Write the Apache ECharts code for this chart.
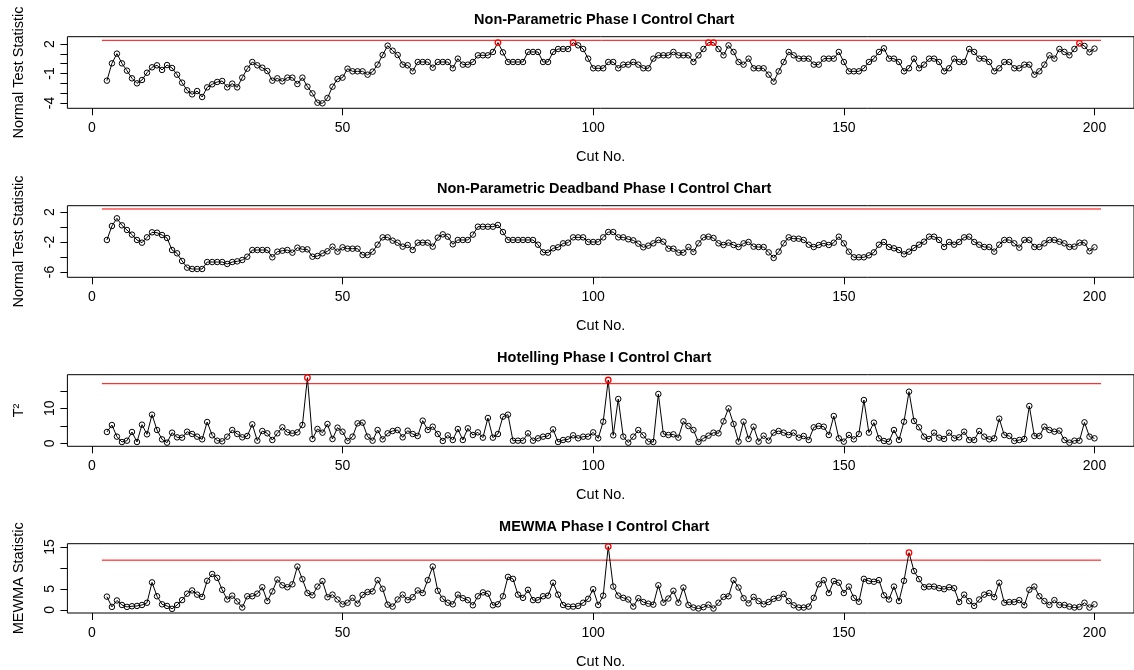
<!DOCTYPE html>
<html><head><meta charset="utf-8">
<script src="https://cdn.jsdelivr.net/npm/echarts@6/dist/echarts.min.js"></script>
<style>html,body{margin:0;padding:0;background:#fff}#c{width:1134px;height:670px}</style>
</head><body><div id="c"></div>
<script>
const firstCut = 3;
const titles = ["Non-Parametric Phase I Control Chart","Non-Parametric Deadband Phase I Control Chart","Hotelling Phase I Control Chart","MEWMA Phase I Control Chart"];
const yNames = ["Normal Test Statistic","Normal Test Statistic","T\u00B2","MEWMA Statistic"];
const xName = "Cut No.";
const xTicks = [0,50,100,150,200];

const np1 = [-1.73,0.03,1.02,0.03,-0.71,-1.49,-2.00,-1.66,-0.92,-0.37,
-0.17,-0.64,-0.14,-0.44,-1.12,-1.93,-2.71,-3.12,-2.78,-3.39,
-2.41,-2.10,-1.86,-1.76,-2.41,-2.03,-2.41,-1.42,-0.51,0.17,
-0.17,-0.41,-0.75,-1.73,-1.49,-1.80,-1.42,-1.42,-2.07,-1.42,
-2.34,-3.02,-3.97,-4.03,-3.49,-2.34,-1.56,-1.42,-0.51,-0.78,
-0.78,-0.78,-1.12,-0.81,-0.10,0.88,1.83,1.32,0.88,-0.10,
-0.17,-0.78,0.17,0.17,0.17,-0.41,0.17,0.17,0.17,-0.47,
0.51,-0.10,-0.10,0.17,0.85,0.85,0.85,1.19,2.14,1.15,
0.17,0.17,0.17,0.17,1.19,1.19,1.19,0.17,0.17,1.19,
1.49,1.49,1.49,2.14,1.86,1.49,0.51,-0.47,-0.47,-0.47,
0.17,0.17,-0.47,-0.10,-0.10,0.17,-0.10,-0.47,-0.47,0.51,
0.85,0.85,0.85,1.19,0.85,0.85,0.85,0.17,0.85,1.49,
2.14,2.14,1.49,0.85,1.86,1.19,0.17,-0.10,0.51,-0.47,
-0.47,-0.47,-1.12,-1.83,-0.78,0.17,1.19,0.85,0.51,0.51,
0.51,-0.10,-0.10,0.51,0.51,0.51,1.19,0.17,-0.78,-0.78,
-0.78,-0.47,0.17,0.51,1.19,1.56,0.51,0.51,0.17,-0.78,
-0.47,0.51,-0.47,-0.10,0.51,0.51,0.17,-0.78,-0.47,0.51,
0.17,0.17,1.49,1.19,0.51,0.51,0.17,-0.78,-0.47,0.17,
0.17,-0.47,-0.47,-0.10,-0.10,-1.12,-0.78,-0.10,0.85,0.51,
1.49,1.19,0.85,1.49,2.07,1.80,1.15,1.53];

const np2 = [-1.73,0.13,1.16,0.22,-0.40,-1.02,-1.73,-2.09,-1.38,-0.71,
-0.76,-1.07,-1.47,-3.07,-3.51,-4.53,-5.42,-5.60,-5.60,-5.60,
-4.67,-4.67,-4.67,-4.67,-4.93,-4.67,-4.58,-4.40,-3.96,-3.07,
-3.07,-3.07,-3.07,-4.04,-3.29,-3.16,-3.07,-3.42,-2.76,-2.98,
-2.98,-3.96,-3.87,-3.51,-3.24,-2.62,-3.29,-2.71,-2.89,-2.89,
-2.89,-3.73,-3.73,-3.29,-2.36,-1.38,-1.38,-1.82,-2.09,-2.62,
-2.40,-3.07,-2.09,-2.09,-2.09,-2.62,-1.42,-0.98,-1.29,-2.31,
-1.73,-1.73,-1.73,-1.02,0.04,0.04,0.04,0.04,0.27,-0.67,
-1.73,-1.73,-1.73,-1.73,-1.73,-1.73,-2.36,-3.38,-3.42,-2.84,
-2.71,-2.18,-2.09,-1.38,-1.38,-1.38,-2.00,-2.00,-2.00,-1.38,
-0.67,-0.67,-1.38,-1.38,-1.64,-1.78,-2.22,-2.71,-2.49,-2.18,
-1.73,-1.96,-2.89,-2.89,-3.42,-3.42,-2.67,-3.33,-2.18,-1.38,
-1.29,-1.47,-2.18,-2.40,-2.09,-2.40,-2.67,-2.18,-2.00,-2.62,
-2.67,-2.67,-3.38,-4.13,-3.29,-2.18,-1.38,-1.56,-1.56,-1.73,
-2.36,-2.67,-2.40,-2.18,-2.40,-2.09,-1.29,-2.18,-3.29,-4.04,
-4.04,-4.04,-3.78,-3.38,-2.36,-2.00,-2.67,-2.84,-3.07,-3.64,
-3.29,-2.80,-2.36,-1.96,-1.29,-1.29,-1.73,-2.67,-2.00,-2.36,
-2.00,-1.38,-1.29,-2.00,-2.36,-2.67,-2.67,-3.29,-2.36,-1.73,
-1.73,-2.18,-2.76,-1.73,-1.73,-2.67,-2.67,-2.18,-1.73,-1.73,
-1.96,-2.18,-2.67,-2.62,-2.09,-2.09,-3.24,-2.71];

const t2 = [3.23,5.23,1.90,0.37,0.75,3.23,0.37,5.32,2.56,8.18,
3.80,1.13,0.18,3.04,1.70,1.61,3.32,2.66,1.90,1.13,
6.09,2.28,0.75,0.56,1.90,3.80,2.66,1.70,2.09,5.42,
0.75,3.51,2.85,0.94,2.85,4.56,3.13,2.85,3.13,5.23,
18.75,1.23,4.09,3.04,5.51,1.23,4.47,3.32,0.66,1.90,
5.70,5.90,1.90,0.75,3.80,1.13,2.85,3.51,3.80,1.70,
3.61,2.66,2.09,6.47,3.80,4.75,2.66,0.66,2.28,0.94,
4.09,0.94,4.28,2.37,3.13,1.61,7.23,1.61,2.66,7.61,
8.18,0.75,0.75,0.75,2.85,0.75,1.42,1.90,2.09,3.99,
0.37,0.94,1.13,2.28,1.42,1.90,1.90,3.13,1.42,6.18,
18.09,2.28,12.66,1.90,0.18,1.90,3.80,2.28,0.47,0.37,
14.09,2.66,2.37,2.56,1.61,6.28,4.94,3.80,0.37,1.42,
2.18,3.04,2.85,6.28,9.99,5.51,0.47,6.18,1.23,4.75,
0.47,2.18,0.75,3.04,3.51,3.04,2.37,3.04,1.61,2.09,
0.94,4.56,4.94,4.75,2.37,7.80,1.42,0.47,2.37,1.13,
2.66,12.37,3.04,5.90,1.42,0.66,0.47,3.80,0.94,6.18,
14.75,6.37,4.56,1.90,1.23,3.04,1.61,1.23,3.04,1.42,
1.70,3.32,0.94,0.94,3.51,1.90,1.13,1.42,7.04,2.37,
2.09,0.66,0.94,1.23,10.66,2.09,2.09,4.75,3.80,3.32,
3.61,0.94,0.18,0.75,0.75,5.99,1.90,1.42];

const mewma = [3.15,0.69,2.23,1.15,0.69,0.85,0.92,1.15,1.69,6.54,
3.23,1.31,0.92,0.23,1.15,2.31,3.85,4.62,3.62,3.08,
6.92,8.54,7.62,4.77,2.46,3.38,2.00,0.54,3.23,3.23,
3.85,5.38,2.08,4.38,7.23,5.85,5.38,6.08,10.31,7.31,
4.00,3.46,5.54,6.85,3.00,3.62,2.46,1.31,1.69,2.85,
1.46,3.54,4.23,4.38,7.08,5.00,1.23,0.77,2.46,3.62,
2.31,3.00,4.62,4.00,7.08,10.31,4.54,2.62,1.69,1.31,
3.62,2.77,2.31,1.08,3.23,4.15,3.85,1.08,1.31,3.23,
7.85,7.38,3.62,2.85,4.77,2.31,2.31,3.23,3.38,6.46,
3.62,1.15,0.77,0.77,0.92,1.69,2.62,4.92,1.15,3.38,
15.08,5.54,3.38,2.85,2.46,0.77,2.77,1.85,1.46,1.23,
5.85,1.69,2.69,4.54,1.69,5.31,1.15,0.54,0.31,0.62,
1.23,0.31,1.69,3.08,3.23,7.08,5.31,2.77,1.54,3.08,
2.08,1.31,1.85,2.62,2.85,3.77,2.08,1.08,0.54,0.54,
0.77,2.85,6.08,7.08,4.00,6.85,6.46,4.00,5.54,2.85,
1.92,7.38,6.85,6.69,7.08,3.46,2.46,5.54,2.08,6.92,
13.62,9.23,7.31,5.38,5.54,5.54,5.15,4.92,5.38,5.15,
1.85,3.62,2.08,0.92,2.46,3.62,4.00,3.00,6.46,1.69,
1.85,1.85,2.31,1.08,4.77,5.54,3.23,2.08,1.15,2.31,
1.15,1.15,0.77,0.54,0.69,1.69,0.54,1.31];

const ucls = [2.376, 2.40, 17.03, 11.84];
const uclFrom = 2, uclTo = 201.3;
const redCuts = [[81,96,123,124,197],[],[43,103],[103,163]];
const yTicks = [[-4,-3,-2,-1,0,1,2],[-6,-4,-2,0,2],[0,5,10,15],[0,5,10,15]];
const yLabels = [[-4,-1,2],[-6,-2,2],[0,10],[0,5,15]];
const seriesValues = [np1, np2, t2, mewma];

// layout (style only)
const FONT = "'Liberation Sans', Arial, Helvetica, sans-serif";
const gridLeft = 67.4, gridWidth = 1073.6, gridH = 71.6, panelStep = 169, firstTop = 36.7;
const xMin = -4.88, xMax = 207.88;
const yRanges = [[-4.539, 2.742],[-6.707, 2.84],[-0.857, 19.6],[-0.76, 15.76]];

const grids = [], xAxes = [], yAxes = [], series = [], graphics = [];
for (let p = 0; p < 4; p++) {
  const top = firstTop + p * panelStep;
  grids.push({left: gridLeft, top: top, width: gridWidth, height: gridH, show: true, borderColor: '#000', borderWidth: 1, backgroundColor: 'transparent'});
  xAxes.push({gridIndex: p, type: 'value', min: xMin, max: xMax, position: 'bottom',
    name: xName, nameLocation: 'middle', nameGap: 41,
    nameTextStyle: {fontFamily: FONT, fontSize: 14.5, color: '#000'},
    axisLine: {show: false, onZero: false}, splitLine: {show: false},
    axisTick: {show: true, length: 7, lineStyle: {color: '#000'}, customValues: xTicks},
    axisLabel: {show: true, customValues: xTicks, fontFamily: FONT, fontSize: 14, color: '#000', margin: 13}});
  yAxes.push({gridIndex: p, type: 'value', min: yRanges[p][0], max: yRanges[p][1], position: 'left',
    name: yNames[p], nameLocation: 'middle', nameGap: 41, nameRotate: 90,
    nameTextStyle: {fontFamily: FONT, fontSize: 14.5, color: '#000'},
    axisLine: {show: false, onZero: false}, splitLine: {show: false},
    axisTick: {show: true, length: 7, lineStyle: {color: '#000'}, customValues: yTicks[p]},
    axisLabel: {show: true, rotate: 90, customValues: yLabels[p], fontFamily: FONT, fontSize: 14, color: '#000', margin: 10}});
  const vals = seriesValues[p];
  const data = vals.map((v, i) => {
    const cut = firstCut + i;
    if (redCuts[p].indexOf(cut) >= 0) return {value: [cut, v], itemStyle: {borderColor: '#ff0000', borderWidth: 1.3}};
    return [cut, v];
  });
  series.push({type: 'line', xAxisIndex: p, yAxisIndex: p, silent: true, animation: false,
    data: [[uclFrom, ucls[p]], [uclTo, ucls[p]]], symbol: 'none',
    lineStyle: {color: '#ff0000', width: 1}, z: 2});
  series.push({type: 'line', xAxisIndex: p, yAxisIndex: p, silent: true, animation: false,
    data: data, symbol: 'circle', symbolSize: 5.5, showAllSymbol: true,
    lineStyle: {color: '#000', width: 1},
    itemStyle: {color: 'rgba(0,0,0,0)', borderColor: '#000', borderWidth: 1}, z: 3});
  graphics.push({type: 'text', x: gridLeft + gridWidth / 2, y: 20 + p * panelStep,
    style: {text: titles[p], textAlign: 'center', textVerticalAlign: 'middle', font: 'bold 14.5px ' + FONT, fill: '#000'}});
}

const chart = echarts.init(document.getElementById('c'), null, {renderer: 'canvas'});
chart.setOption({animation: false, backgroundColor: '#fff', grid: grids, xAxis: xAxes, yAxis: yAxes, series: series, graphic: graphics});
</script>
</body></html>
